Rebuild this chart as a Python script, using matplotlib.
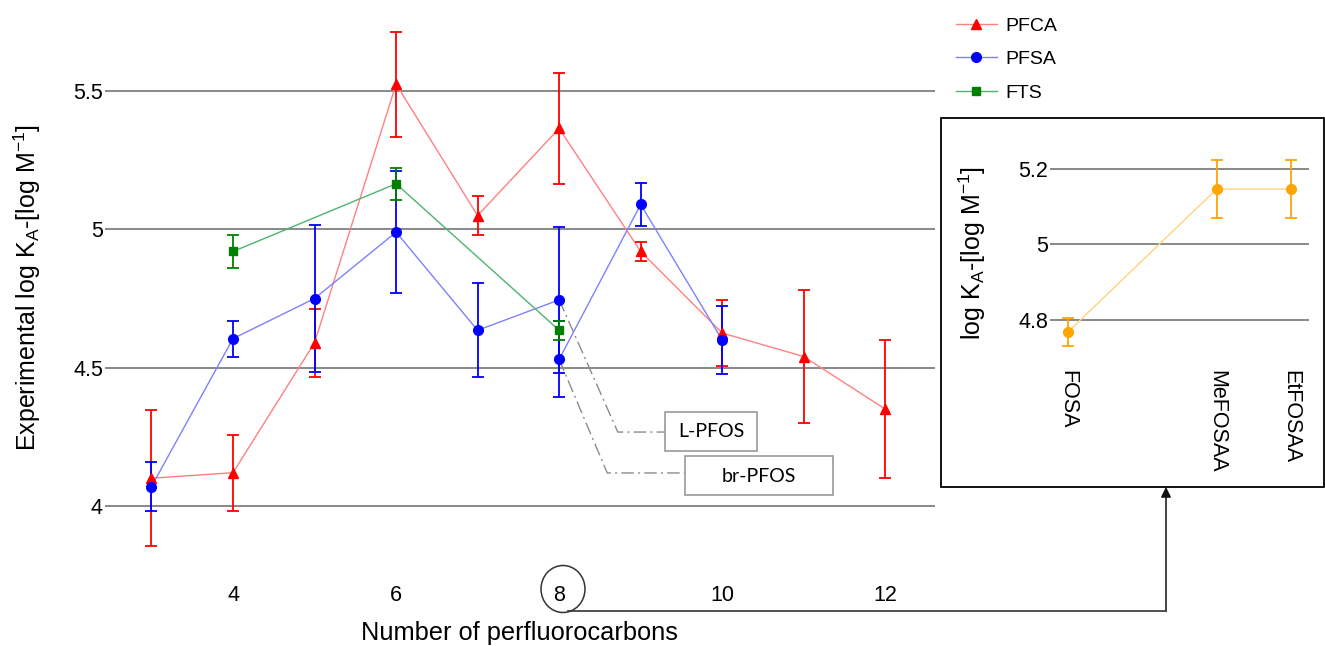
import matplotlib
matplotlib.use('Agg')
import matplotlib.pyplot as plt
from matplotlib.patches import Rectangle, Ellipse
from matplotlib.lines import Line2D

plt.rcParams['font.family'] = ['Liberation Sans', 'DejaVu Sans']

# ---------------- data ----------------
pfca_x = [3, 4, 5, 6, 7, 8, 9, 10, 11, 12]
pfca_y = [4.10, 4.12, 4.59, 5.525, 5.05, 5.365, 4.92, 4.625, 4.54, 4.35]
pfca_err = [0.245, 0.138, 0.123, 0.19, 0.07, 0.20, 0.036, 0.118, 0.242, 0.25]

pfsa_x = [3, 4, 5, 6, 7, 8, 8, 9, 10]
pfsa_y = [4.07, 4.605, 4.75, 4.99, 4.635, 4.745, 4.53, 5.09, 4.60]
pfsa_err = [0.09, 0.065, 0.265, 0.22, 0.17, 0.265, 0.137, 0.076, 0.123]

fts_x = [4, 6, 8]
fts_y = [4.92, 5.165, 4.635]
fts_err = [0.06, 0.058, 0.034]

sub_labels = ['FOSA', 'MeFOSAA', 'EtFOSAA']
sub_pos = [0, 2, 3]
sub_y = [4.768, 5.147, 5.147]
sub_err = [0.037, 0.078, 0.078]

main_xticks = [4, 6, 8, 10, 12]
main_yticks = [4, 4.5, 5, 5.5]
main_yticklabels = ['4', '4.5', '5', '5.5']
sub_yticks = [4.8, 5.0, 5.2]
sub_yticklabels = ['4.8', '5', '5.2']

# ---------------- figure ----------------
W, H = 1325, 646
fig = plt.figure(figsize=(W / 100, H / 100), dpi=100, facecolor='white')


def fx(px):
    return px / W


def fy(py):
    return 1 - py / H


ax = fig.add_axes([fx(105), fy(575), fx(935) - fx(105), fy(22) - fy(575)])
ax.set_xlim(2.43, 12.61)
ax.set_ylim(3.75, 5.75)
for s in ax.spines.values():
    s.set_visible(False)
ax.set_yticks(main_yticks)
ax.set_yticklabels(main_yticklabels)
ax.set_xticks(main_xticks)
ax.tick_params(length=0, labelsize=15.5)
ax.tick_params(axis='y', pad=1.5)
ax.tick_params(axis='x', pad=7)
ax.yaxis.grid(True, color='#7f7f7f', lw=1.3)
ax.set_axisbelow(True)

series = [
    (pfca_x, pfca_y, pfca_err, '#ff0000', '#ff8080', '^', 7, 'PFCA'),
    (pfsa_x, pfsa_y, pfsa_err, '#0000ff', '#8080ff', 'o', 7, 'PFSA'),
    (fts_x, fts_y, fts_err, '#008000', '#4fb46f', 's', 6, 'FTS'),
]
handles = []
for xs, ys, es, c, lc, m, ms, name in series:
    ax.plot(xs, ys, color=lc, lw=1.0, zorder=2)
    ax.errorbar(xs, ys, yerr=es, fmt=m, color=c, ms=ms, ecolor=c,
                elinewidth=1.3, capsize=4, capthick=1.3, zorder=3)
    handles.append(Line2D([], [], color=lc, lw=1.0, marker=m, ms=ms,
                          markerfacecolor=c, markeredgecolor=c, label=name))

fig.legend(handles=handles, loc='upper left',
           bbox_to_anchor=(fx(956), fy(17)), bbox_transform=fig.transFigure,
           frameon=False, fontsize=14, handlelength=2.1, handletextpad=0.45,
           labelspacing=0.82, borderpad=0, borderaxespad=0)

# leader lines and labels for the two PFOS points
dash = (0, (9, 3, 1.5, 3))
ax.plot([8, 8.72, 9.30], [4.745, 4.267, 4.267], color='#8c8c8c', lw=1.0,
        linestyle=dash, zorder=1)
ax.plot([8, 8.59, 9.546], [4.53, 4.119, 4.119], color='#8c8c8c', lw=1.0,
        linestyle=dash, zorder=1)
ax.add_patch(Rectangle((9.30, 4.199), 10.43 - 9.30, 4.340 - 4.199,
                       facecolor='white', edgecolor='#999999', lw=1.2, zorder=4))
ax.add_patch(Rectangle((9.546, 4.040), 11.36 - 9.546, 4.181 - 4.040,
                       facecolor='white', edgecolor='#999999', lw=1.2, zorder=4))
ax.text((9.30 + 10.43) / 2, 4.268, 'L-PFOS', ha='center', va='center',
        fontsize=14, family=['Lato', 'DejaVu Sans'], zorder=5)
ax.text((9.546 + 11.36) / 2, 4.108, 'br-PFOS', ha='center', va='center',
        fontsize=14, family=['Lato', 'DejaVu Sans'], zorder=5)

# axis titles
fig.text(fx(27), fy(288), r'Experimental log K$_\mathregular{A}$-[log M$^\mathregular{-1}$]',
         rotation=90, ha='center', va='center', fontsize=18)
fig.text(fx(519), fy(633), 'Number of perfluorocarbons', ha='center', va='center',
         fontsize=18.3)

# circle around "8" and connector arrow to the inset
fig.patches.append(Ellipse((fx(563), fy(589)), fx(44), 47 / H, fill=False,
                           edgecolor='#333333', lw=1.1, transform=fig.transFigure,
                           figure=fig))
fig.lines.append(Line2D([fx(568), fx(1166)], [fy(611), fy(611)], color='#333333',
                        lw=1.2, transform=fig.transFigure, figure=fig))
fig.add_artist(matplotlib.patches.FancyArrowPatch(
    (fx(1166), fy(611)), (fx(1166), fy(487)), transform=fig.transFigure,
    arrowstyle='-|>,head_length=6,head_width=3', color='#111111', lw=1.1,
    mutation_scale=1, shrinkA=0, shrinkB=0))

# inset box
fig.patches.append(Rectangle((fx(941), fy(487)), fx(1324) - fx(941), fy(118) - fy(487),
                             fill=False, edgecolor='black', lw=1.3,
                             transform=fig.transFigure, figure=fig))

ax2 = fig.add_axes([fx(1050), fy(355), fx(1309) - fx(1050), fy(140) - fy(355)])
ax2.set_xlim(-0.24, 3.24)
ax2.set_ylim(4.707, 5.277)
for s in ax2.spines.values():
    s.set_visible(False)
ax2.set_yticks(sub_yticks)
ax2.set_yticklabels(sub_yticklabels)
ax2.set_xticks(sub_pos)
ax2.set_xticklabels(sub_labels, rotation=-90, va='top', ha='center')
ax2.tick_params(length=0, labelsize=15.5)
ax2.tick_params(axis='y', pad=1.5)
ax2.tick_params(axis='x', pad=11)
ax2.yaxis.grid(True, color='#7f7f7f', lw=1.3)
ax2.set_axisbelow(True)
ax2.plot(sub_pos, sub_y, color='#ffd27f', lw=1.0, zorder=2)
ax2.errorbar(sub_pos, sub_y, yerr=sub_err, fmt='o', color='#ffa500', ms=7,
             ecolor='#ffa500', elinewidth=1.3, capsize=4, capthick=1.3, zorder=3)
fig.text(fx(972), fy(253), r'log K$_\mathregular{A}$-[log M$^\mathregular{-1}$]',
         rotation=90, ha='center', va='center', fontsize=18)

fig.savefig('out.png', dpi=100, facecolor='white')
